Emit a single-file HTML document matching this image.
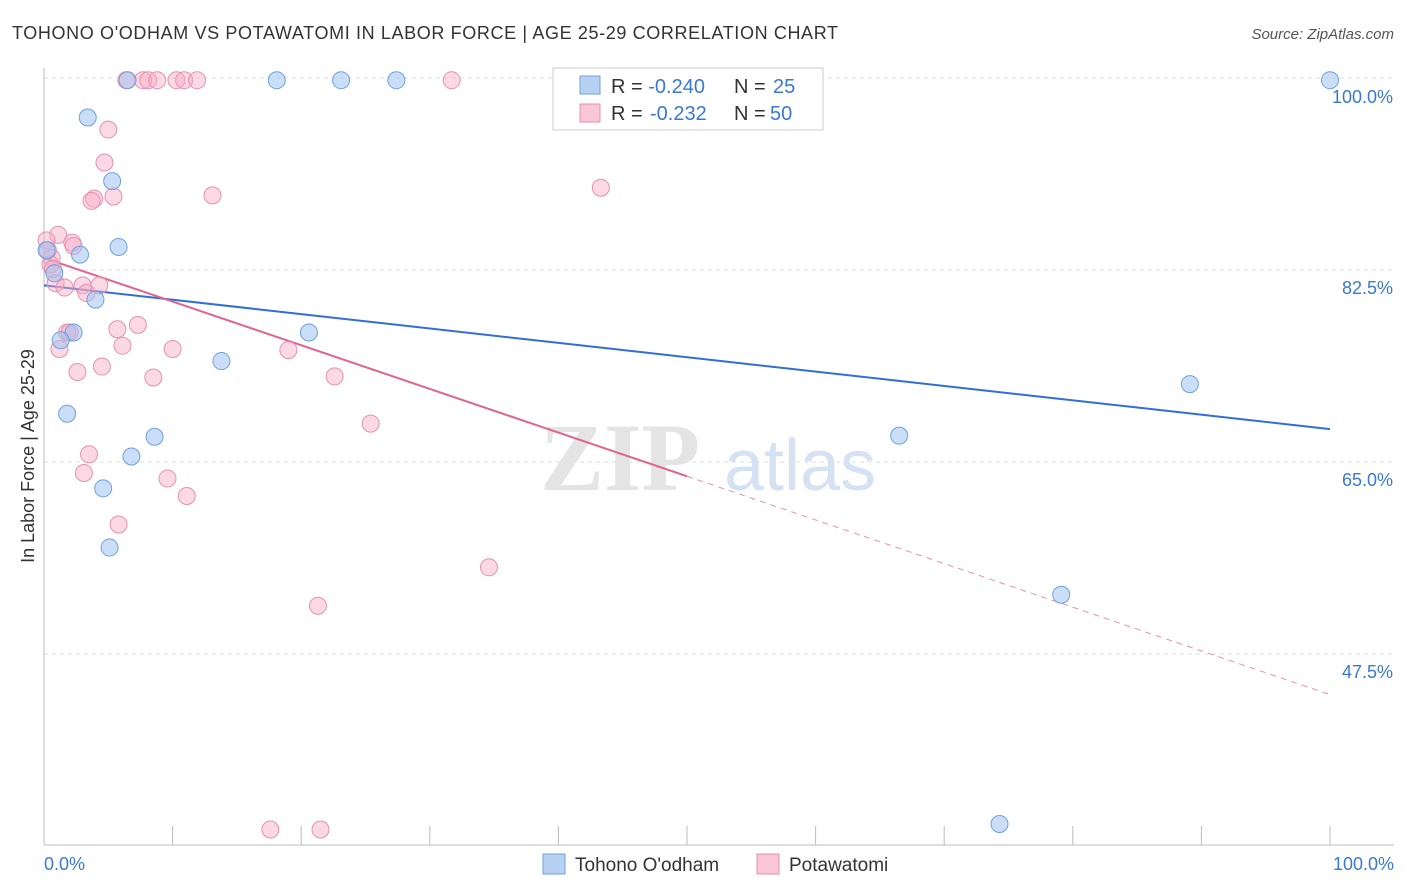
<!DOCTYPE html>
<html><head><meta charset="utf-8"><style>
body{margin:0;background:#fff;font-family:"Liberation Sans",sans-serif;}
svg{display:block}
</style></head><body>
<svg id="chart" width="1406" height="892">
<text x="12" y="39" font-size="18" fill="#333" textLength="826" lengthAdjust="spacing">TOHONO O'ODHAM VS POTAWATOMI IN LABOR FORCE | AGE 25-29 CORRELATION CHART</text>
<text x="1394" y="39" font-size="15" fill="#555" font-style="italic" text-anchor="end">Source: ZipAtlas.com</text>
<g id="grid"></g>
<text x="620" y="490" font-size="96" fill="#e4e4e4" font-family="Liberation Serif,serif" font-weight="bold" text-anchor="middle">ZIP</text>
<text x="800" y="490" font-size="72" fill="#d5e2f3" text-anchor="middle">atlas</text>
<line x1="44" y1="68" x2="44" y2="845" stroke="#bbb"/>
<line x1="44" y1="845" x2="1394" y2="845" stroke="#bbb"/>
<g id="xticks"></g>
<text x="44" y="870" font-size="18" fill="#3a78d8">0.0%</text>
<text x="1394" y="870" font-size="18" fill="#3a78d8" text-anchor="end">100.0%</text>
<text transform="translate(34,456) rotate(-90)" font-size="18" fill="#333" text-anchor="middle">In Labor Force | Age 25-29</text>
<g id="lines"></g>
<g id="pts"></g>
<g>
<rect x="553" y="68" width="270" height="62" fill="#fff" stroke="#ccc"/>
<rect x="580" y="76" width="20" height="18" fill="#b7d1f3" stroke="#6fa0e0"/>
<rect x="580" y="104" width="20" height="18" fill="#f9c6d6" stroke="#e890b0"/>
<text x="611" y="93" font-size="20" fill="#333">R = <tspan fill="#3a78d8">-0.240</tspan><tspan x="734">N = </tspan><tspan x="773" fill="#3a78d8">25</tspan></text>
<text x="611" y="120" font-size="20" fill="#333">R = <tspan x="650" fill="#3a78d8">-0.232</tspan><tspan x="734">N = </tspan><tspan x="770" fill="#3a78d8">50</tspan></text>
</g>
<g>
<rect x="543" y="854" width="22" height="20" fill="#b7d1f3" stroke="#6fa0e0"/>
<text x="575" y="871" font-size="19" fill="#333">Tohono O'odham</text>
<rect x="757" y="854" width="22" height="20" fill="#f9c6d6" stroke="#e890b0"/>
<text x="789" y="871" font-size="19" fill="#333">Potawatomi</text>
</g>
</svg>
<script>
const yTicks=[100,82.5,65,47.5];
const yTickLabels=["100.0%","82.5%","65.0%","47.5%"];
const blueX=[6.5,18.1,23.1,27.4,100,3.4,5.3,5.8,2.8,0.2,0.8,4.0,2.3,1.3,20.6,13.8,89.1,1.8,8.6,66.5,6.8,4.6,5.1,79.1,74.3];
const blueY=[99.8,99.8,99.8,99.8,99.8,96.4,90.6,84.6,83.9,84.3,82.2,79.8,76.8,76.1,76.8,74.2,72.1,69.4,67.3,67.4,65.5,62.6,57.2,52.9,32.0];
const pinkX=[6.4,7.7,8.1,8.8,10.3,10.9,11.9,31.7,5.0,4.7,43.3,3.9,3.7,5.4,13.1,1.1,0.2,2.2,2.3,0.6,0.5,0.9,1.6,3.0,4.3,3.3,7.3,5.7,1.8,2.0,6.1,1.2,10.0,19.0,4.5,2.6,8.5,22.6,25.4,3.5,3.1,9.6,11.1,5.8,34.6,21.3,17.6,21.5,0.3,0.7];
const pinkY=[99.8,99.8,99.8,99.8,99.8,99.8,99.8,99.8,95.3,92.3,90.0,89.0,88.8,89.2,89.3,85.7,85.2,85.0,84.7,83.6,83.0,81.3,80.9,81.1,81.1,80.4,77.5,77.1,76.8,76.8,75.6,75.3,75.3,75.2,73.7,73.2,72.7,72.8,68.5,65.7,64.0,63.5,61.9,59.3,55.4,51.9,31.5,31.5,84.3,82.6];
const blueTrend=[81.1,68.0];
const pinkTrend=[83.6,43.8];
const NS="http://www.w3.org/2000/svg";
const xs=v=>44+v*12.86, ys=v=>78+(100-v)*10.971;
function mk(t,a,p){const e=document.createElementNS(NS,t);for(const k in a)e.setAttribute(k,a[k]);p.appendChild(e);return e;}
const grid=document.getElementById('grid');
yTicks.forEach((v,i)=>{
 const l=mk('line',{x1:44,x2:1394,y1:ys(v),y2:ys(v),stroke:'#ddd','stroke-dasharray':'4,4'},grid);
 
 
 const t=mk('text',{x:1393,y:ys(v)+(i==0?25:24),'font-size':18,fill:'#3a78d8','text-anchor':'end'},grid);
 t.textContent=yTickLabels[i];
 
 
});
const xt=document.getElementById('xticks');
for(let i=1;i<=10;i++){const l=mk('line',{x1:xs(i*10),x2:xs(i*10),y1:826,y2:845,stroke:'#bbb'},xt);
 
 }
const pts=document.getElementById('pts');
pinkX.forEach((x,i)=>{const c=mk('circle',{cx:xs(x),cy:ys(pinkY[i]),r:8.5,fill:'rgba(246,170,196,0.45)',stroke:'#e890b0','stroke-width':1},pts);
 
 });
blueX.forEach((x,i)=>{const c=mk('circle',{cx:xs(x),cy:ys(blueY[i]),r:8.5,fill:'rgba(160,195,240,0.55)',stroke:'#6fa0e0','stroke-width':1},pts);
 
 });
const lg=document.getElementById('lines');
const bl=mk('line',{x1:xs(0),y1:ys(blueTrend[0]),x2:xs(100),y2:ys(blueTrend[1]),stroke:'#2f6fd6','stroke-width':2},lg);


const pm=(pinkTrend[0]+pinkTrend[1])/2;
const pl=mk('line',{x1:xs(0),y1:ys(pinkTrend[0]),x2:xs(50),y2:ys(pm),stroke:'#e0648f','stroke-width':2},lg);


const pd=mk('line',{x1:xs(50),y1:ys(pm),x2:xs(100),y2:ys(pinkTrend[1]),stroke:'#e890b0','stroke-width':1,'stroke-dasharray':'6,5'},lg);


</script>
</body></html>
